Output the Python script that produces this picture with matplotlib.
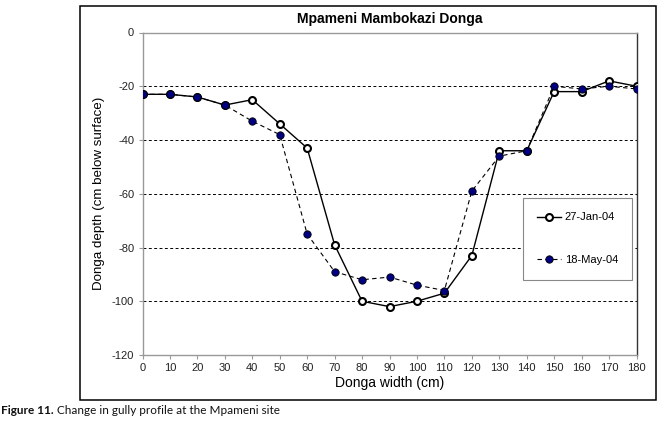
import matplotlib
matplotlib.use("Agg")
import matplotlib.pyplot as plt
from matplotlib.patches import Rectangle

width_cm = [0, 10, 20, 30, 40, 50, 60, 70, 80, 90, 100, 110, 120, 130, 140, 150, 160, 170, 180]
jan_04 = [-23, -23, -24, -27, -25, -34, -43, -79, -100, -102, -100, -97, -83, -44, -44, -22, -22, -18, -20]
may_04 = [-23, -23, -24, -27, -33, -38, -75, -89, -92, -91, -94, -96, -59, -46, -44, -20, -21, -20, -21]
series_labels = ["27-Jan-04", "18-May-04"]
x_ticks = list(range(0, 181, 10))
y_ticks = list(range(-120, 1, 20))
title = "Mpameni Mambokazi Donga"
x_label = "Donga width (cm)"
y_label = "Donga depth (cm below surface)"

plt.rcParams['font.family'] = ['Liberation Sans', 'DejaVu Sans']
plt.rcParams['axes.unicode_minus'] = False

W, H = 662, 428
fig = plt.figure(figsize=(W / 100, H / 100), dpi=100)
L, R, T, B = 142.5, 636.5, 32.5, 355
ax = fig.add_axes([L / W, 1 - B / H, (R - L) / W, (B - T) / H])

ax.plot(width_cm, jan_04, color='black', lw=1.0, marker='o', markersize=5.0,
        markerfacecolor='white', markeredgecolor='black', markeredgewidth=1.5,
        label=series_labels[0], zorder=3)
ax.plot(width_cm, may_04, color='black', lw=0.8, linestyle=(0, (4, 3)), marker='o',
        markersize=5.3, markerfacecolor='#000080', markeredgecolor='black',
        markeredgewidth=0.6, label=series_labels[1], zorder=4)

ax.set_xlim(0, 180)
ax.set_ylim(-120, 0)
ax.set_xticks(x_ticks)
ax.set_yticks(y_ticks)
for yv in y_ticks[1:-1]:
    ax.axhline(yv, color='black', lw=0.7, linestyle=(0, (3, 2.5)), zorder=1)

for s in ['left', 'bottom', 'top']:
    ax.spines[s].set_color('#999999')
    ax.spines[s].set_linewidth(1.0)
ax.spines['right'].set_color('#333333')
ax.spines['right'].set_linewidth(1.0)

ax.tick_params(axis='x', direction='out', length=3, width=0.8, color='#999999',
               labelsize=8, labelcolor='#222222', pad=3)
ax.tick_params(axis='y', direction='out', length=3, width=0.8, color='#999999',
               labelsize=8, labelcolor='#222222', pad=3)

ax.set_xlabel(x_label, fontsize=10, labelpad=2)
ax.set_ylabel(y_label, fontsize=9.6, labelpad=5)
fig.text((L + R) / 2 / W, 1 - 19 / H, title, fontsize=10, fontweight='bold',
         ha='center', va='center')

leg = ax.legend(loc='upper left', bbox_to_anchor=(523 / W, 1 - 198 / H),
                bbox_transform=fig.transFigure, fontsize=8, frameon=True,
                fancybox=False, edgecolor='#888888', framealpha=1,
                borderpad=1.3, labelspacing=2.95, handlelength=2.15,
                handletextpad=0.3, borderaxespad=0)
leg.get_frame().set_linewidth(0.8)

# outer chart frame
fig.patches.append(Rectangle((80 / W, 1 - 400 / H), 576 / W, 394 / H,
                             transform=fig.transFigure, fill=False,
                             edgecolor='black', lw=1.1))

# caption
cap_font = ['Lato', 'DejaVu Sans']
t1 = fig.text(1 / W, 1 - 410 / H, "Figure 11.", fontsize=8.5, fontweight='bold',
              family=cap_font, va='center', ha='left', color='#111111')
fig.canvas.draw()
bb = t1.get_window_extent()
fig.text(bb.x1 / W + 3 / W, 1 - 410 / H, "Change in gully profile at the Mpameni site",
         fontsize=8.5, family=cap_font, va='center', ha='left', color='#111111')

fig.savefig("out.png", dpi=100)
